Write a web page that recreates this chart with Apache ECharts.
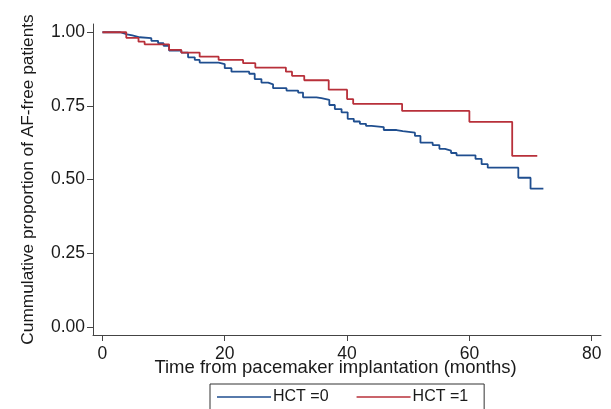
<!DOCTYPE html>
<html>
<head>
<meta charset="utf-8">
<script src="https://cdn.jsdelivr.net/npm/echarts@6/dist/echarts.min.js"></script>
<style>
  html, body { margin: 0; padding: 0; background: #fff; }
  #chart { width: 611px; height: 409px; }
</style>
</head>
<body>
<div id="chart"></div>
<script>
// Kaplan-Meier steps: time (months) and proportion after each drop
var timeHct0 = [0, 2.9, 3.8, 4.9, 6.1, 8.0, 9.1, 10.0, 10.9, 12.9, 14.0, 15.1, 15.9, 19.0, 20.0, 21.1,
  24.0, 24.9, 26.0, 27.1, 27.9, 30.1, 32.0, 32.8, 35.0, 35.8, 37.1, 38.0, 39.1, 40.1, 41.1, 42.1,
  43.1, 44.0, 46.0, 48.1, 49.1, 51.1, 52.0, 54.0, 55.1, 56.0, 57.0, 57.9, 61.0, 62.0, 63.0, 68.0,
  70.0, 72.1];
var survHct0 = [1.0, 0.994, 0.989, 0.983, 0.980, 0.971, 0.963, 0.954, 0.938, 0.931, 0.915, 0.906, 0.897, 0.892, 0.878, 0.866,
  0.859, 0.841, 0.829, 0.823, 0.810, 0.802, 0.795, 0.779, 0.776, 0.770, 0.753, 0.739, 0.728, 0.706, 0.697, 0.689,
  0.682, 0.678, 0.668, 0.664, 0.659, 0.648, 0.625, 0.617, 0.604, 0.598, 0.590, 0.582, 0.570, 0.552, 0.540, 0.506,
  0.469, 0.469];

var timeHct1 = [0, 3.9, 5.9, 6.9, 10.9, 12.9, 15.9, 19.0, 23.0, 25.0, 30.0, 31.0, 33.0, 37.0, 40.0, 41.0,
  49.0, 60.0, 67.0, 71.1];
var survHct1 = [1.0, 0.981, 0.968, 0.959, 0.940, 0.931, 0.917, 0.906, 0.895, 0.880, 0.866, 0.852, 0.837, 0.805, 0.773, 0.757,
  0.733, 0.696, 0.580, 0.580];

var xTicks = [0, 20, 40, 60, 80];
var yTicks = [0, 0.25, 0.5, 0.75, 1];
var legendNames = ['HCT =0', 'HCT =1'];

function pairs(t, s) {
  var out = [];
  for (var i = 0; i < t.length; i++) out.push([t[i], s[i]]);
  return out;
}

var textColor = '#1a1a1a';
var axisColor = '#444';
var font = 'Liberation Sans';
var blue = '#1f4e8f';
var red = '#b8303a';

var chart = echarts.init(document.getElementById('chart'));

var option = {
  backgroundColor: '#fff',
  animation: false,
  grid: {
    left: 93,
    right: 10,
    top: 24,
    bottom: 74
  },
  legend: {
    left: 210,
    top: 384,
    data: legendNames,
    icon: 'rect',
    itemWidth: 54,
    itemHeight: 1.6,
    itemGap: 28,
    borderColor: '#333',
    borderWidth: 1,
    borderRadius: 0,
    padding: [5, 16, 10, 7],
    textStyle: {
      fontFamily: font,
      fontSize: 16,
      color: textColor,
      padding: [0, 0, 0, -3]
    }
  },
  xAxis: {
    type: 'value',
    min: -1.54,
    max: 81.52,
    name: 'Time from pacemaker implantation (months)',
    nameLocation: 'middle',
    nameGap: 23,
    nameMoveOverlap: false,
    nameTextStyle: {
      fontFamily: font,
      fontSize: 18.5,
      color: textColor,
      padding: [0, 23, 0, 0]
    },
    axisLine: { onZero: false, lineStyle: { color: axisColor, width: 1 } },
    axisTick: {
      show: true,
      length: 6,
      customValues: xTicks,
      lineStyle: { color: axisColor }
    },
    axisLabel: {
      customValues: xTicks,
      margin: 10,
      fontFamily: font,
      fontSize: 17.5,
      color: textColor
    },
    splitLine: { show: false }
  },
  yAxis: {
    type: 'value',
    min: -0.028,
    max: 1.028,
    name: 'Cummulative proportion of AF-free patients',
    nameLocation: 'middle',
    nameGap: 56,
    nameMoveOverlap: false,
    nameTextStyle: {
      fontFamily: font,
      fontSize: 17.3,
      color: textColor
    },
    axisLine: { show: true, onZero: false, lineStyle: { color: axisColor, width: 1 } },
    axisTick: {
      show: true,
      length: 6,
      customValues: yTicks,
      lineStyle: { color: axisColor }
    },
    axisLabel: {
      customValues: yTicks,
      margin: 8,
      fontFamily: font,
      fontSize: 17.5,
      color: textColor,
      formatter: function (v) { return v.toFixed(2); }
    },
    splitLine: { show: false }
  },
  series: [
    {
      name: legendNames[0],
      type: 'line',
      step: 'end',
      symbol: 'none',
      data: pairs(timeHct0, survHct0),
      lineStyle: { color: blue, width: 1.8 },
      itemStyle: { color: blue },
      z: 2
    },
    {
      name: legendNames[1],
      type: 'line',
      step: 'end',
      symbol: 'none',
      data: pairs(timeHct1, survHct1),
      lineStyle: { color: red, width: 1.8 },
      itemStyle: { color: red },
      z: 3
    }
  ]
};

chart.setOption(option);
</script>
</body>
</html>
